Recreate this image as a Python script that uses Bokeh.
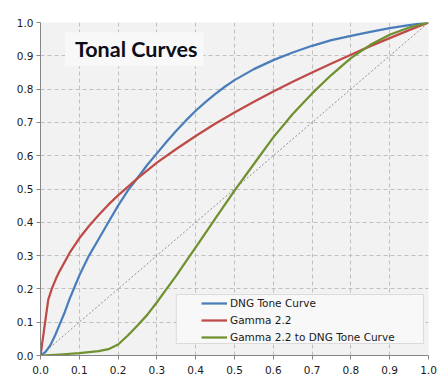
from bokeh.plotting import figure
from bokeh.models import (Range1d, FixedTicker, Legend, LegendItem, Label, BoxAnnotation)
from bokeh.embed import file_html
from bokeh.resources import INLINE

# ---- data ----
dng_x = [0, 0.0125, 0.025, 0.0375, 0.05, 0.0625, 0.075, 0.0875, 0.1, 0.125, 0.15, 0.175,
         0.2, 0.225, 0.25, 0.275, 0.3, 0.325, 0.35, 0.375, 0.4, 0.425, 0.45, 0.475,
         0.5, 0.55, 0.6, 0.65, 0.7, 0.75, 0.8, 0.85, 0.9, 0.95, 1.0]
dng_y = [0, 0.01, 0.03, 0.06, 0.095, 0.13, 0.17, 0.205, 0.24, 0.30, 0.35, 0.40,
         0.45, 0.495, 0.533, 0.572, 0.607, 0.642, 0.675, 0.706, 0.735, 0.761, 0.785, 0.807,
         0.827, 0.86, 0.887, 0.91, 0.93, 0.947, 0.96, 0.972, 0.983, 0.992, 1.0]

gamma_x = [0, 0.02, 0.03, 0.04, 0.05, 0.075, 0.1, 0.125, 0.15, 0.175, 0.2, 0.25, 0.3,
           0.35, 0.4, 0.45, 0.5, 0.55, 0.6, 0.65, 0.7, 0.75, 0.8, 0.85, 0.9, 0.95, 1.0]
gamma_y = [0, 0.168, 0.203, 0.231, 0.255, 0.308, 0.352, 0.389, 0.422, 0.453, 0.481, 0.532,
           0.579, 0.62, 0.659, 0.696, 0.73, 0.762, 0.793, 0.822, 0.85, 0.877, 0.903,
           0.929, 0.953, 0.977, 1.0]

conv_x = [0, 0.05, 0.1, 0.125, 0.15, 0.175, 0.2, 0.225, 0.25, 0.275, 0.3, 0.325, 0.35,
          0.375, 0.4, 0.45, 0.5, 0.55, 0.6, 0.65, 0.7, 0.75, 0.8, 0.85, 0.9, 0.95, 1.0]
conv_y = [0, 0.003, 0.007, 0.01, 0.013, 0.019, 0.033, 0.06, 0.09, 0.122, 0.16, 0.20, 0.24,
          0.283, 0.325, 0.41, 0.495, 0.575, 0.655, 0.725, 0.787, 0.843, 0.893, 0.933,
          0.963, 0.985, 1.0]

diag_x = [0, 1]
diag_y = [0, 1]

ticks = [0, 0.1, 0.2, 0.3, 0.4, 0.5, 0.6, 0.7, 0.8, 0.9, 1.0]
tick_labels = ["0.0", "0.1", "0.2", "0.3", "0.4", "0.5", "0.6", "0.7", "0.8", "0.9", "1.0"]

series_names = ["DNG Tone Curve", "Gamma 2.2", "Gamma 2.2 to DNG Tone Curve"]
series_colors = ["#4a7ebb", "#be4b48", "#6f9130"]
title_text = "Tonal Curves"

# ---- figure ----
p = figure(width=448, height=388, output_backend="svg", toolbar_location=None,
           x_range=Range1d(0, 1), y_range=Range1d(0, 1),
           min_border_left=40, min_border_right=20, min_border_top=22, min_border_bottom=33)
p.background_fill_color = "#f2f2f2"
p.border_fill_color = "white"
p.outline_line_color = None

for ax in (p.xaxis[0], p.yaxis[0]):
    ax.ticker = FixedTicker(ticks=ticks)
    ax.major_label_overrides = {t: l for t, l in zip(ticks, tick_labels)}
    ax.axis_line_color = "#868686"
    ax.major_tick_line_color = "#868686"
    ax.major_tick_in = 0
    ax.major_tick_out = 4
    ax.minor_tick_line_color = None
    ax.major_label_text_font = "DejaVu Sans"
    ax.major_label_text_font_size = "10.5px"
    ax.major_label_text_color = "#1a1a1a"
p.xaxis.major_label_standoff = 6
p.yaxis.major_label_standoff = 3

for g in (p.xgrid[0], p.ygrid[0]):
    g.grid_line_color = "#bfbfbf"
    g.grid_line_dash = "4 3"
    g.grid_line_width = 1

p.line(diag_x, diag_y, line_color="#909090", line_width=1, line_dash="2 2")

r1 = p.line(dng_x, dng_y, line_color=series_colors[0], line_width=2.25, line_join="round")
r2 = p.line(gamma_x, gamma_y, line_color=series_colors[1], line_width=2.25, line_join="round")
r3 = p.line(conv_x, conv_y, line_color=series_colors[2], line_width=2.25, line_join="round")

# legend frame
p.add_layout(BoxAnnotation(left=0.35, right=0.987, bottom=0.036, top=0.183,
                           fill_color="#f8f8f8", fill_alpha=1,
                           line_color="#a0a0a0", line_width=1, level="annotation"))

legend = Legend(items=[LegendItem(label=n, renderers=[r]) for n, r in zip(series_names, [r1, r2, r3])],
                location=(161, 10), padding=0, margin=0, spacing=1,
                glyph_width=26, glyph_height=16, label_standoff=3, label_height=16,
                label_text_font="DejaVu Sans", label_text_font_size="10.5px",
                label_text_color="#1a1a1a",
                background_fill_alpha=0, border_line_color=None)
p.add_layout(legend)

p.add_layout(Label(x=0.063, y=0.92, text=title_text, text_font="Lato", text_font_style="bold",
                   text_font_size="21.5px", text_color="#0d0d1a", text_baseline="middle",
                   background_fill_color="#f8f8f8", background_fill_alpha=1,
                   padding=dict(left=10, right=6, top=4, bottom=4)))

open("out.html", "w").write(file_html(p, INLINE))
